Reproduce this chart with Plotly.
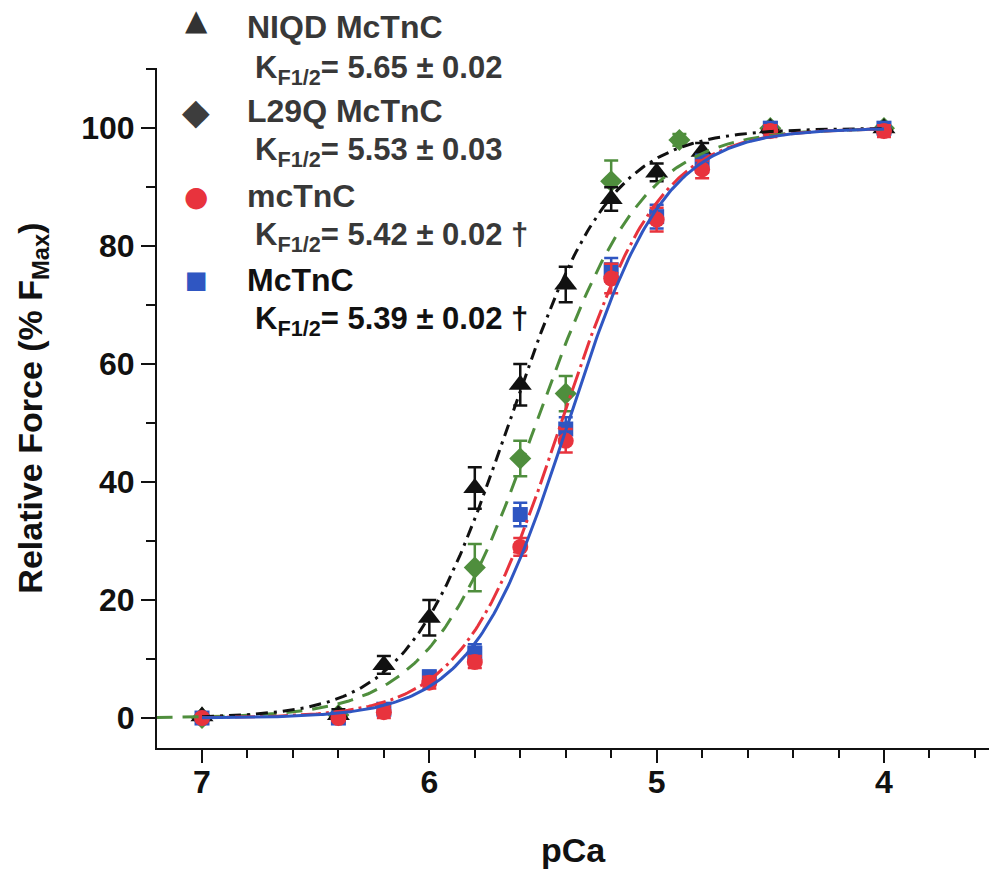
import numpy as np
import plotly.graph_objects as go

# pCa values at which force was measured
pca = [7.0, 6.4, 6.2, 6.0, 5.8, 5.6, 5.4, 5.2, 5.0, 4.8, 4.5, 4.0]
pca_l29q = [7.0, 6.4, 5.8, 5.6, 5.4, 5.2, 4.9, 4.5, 4.0]

# Relative force (% Fmax), mean and error
force_niqd = [0.3, 0.5, 9.0, 17.0, 39.0, 56.5, 73.5, 88.0, 92.5, 96.0, 100.0, 100.0]
err_niqd = [0.5, 1.0, 1.5, 3.0, 3.5, 3.5, 3.0, 2.0, 1.5, 1.5, 1.0, 1.0]

force_l29q = [0.0, 0.5, 25.5, 44.0, 55.0, 91.0, 98.0, 100.0, 100.0]
err_l29q = [0.5, 0.5, 4.0, 3.0, 3.0, 3.5, 1.0, 1.0, 1.0]

force_mc = [0.0, 0.0, 1.0, 6.0, 9.5, 29.0, 47.0, 74.5, 84.5, 93.0, 99.5, 99.5]
err_mc = [0.5, 0.5, 1.0, 1.0, 1.0, 1.5, 2.0, 2.5, 2.0, 1.5, 1.0, 1.0]

force_Mc = [0.0, 0.0, 1.5, 7.0, 11.0, 34.5, 49.0, 76.0, 85.0, 94.0, 100.0, 100.0]
err_Mc = [0.5, 0.5, 1.0, 1.0, 1.5, 2.0, 2.0, 2.0, 2.0, 1.5, 1.0, 1.0]

# Hill fit parameters: K_F1/2 (pCa50) and Hill coefficient
names = ["NIQD McTnC", "L29Q McTnC", "mcTnC", "McTnC"]
k_half = [5.65, 5.53, 5.42, 5.39]
k_err = [0.02, 0.03, 0.02, 0.02]
hill_n = [1.95, 1.85, 2.0, 2.05]
fit_start = [7.0, 7.2, 7.0, 7.0]
dagger = [False, False, True, True]

colors = ["#111111", "#4f8e3d", "#e8333d", "#2f56c2"]
marker_sym = ["triangle-up", "diamond", "circle", "square"]
marker_size = [20, 17, 16, 15]
line_dash = ["12px,6px,3px,6px", "16px,10px", "20px,5px,3px,5px", "solid"]

FONT = "Liberation Sans, Arial, sans-serif"

fig = go.Figure()

series = [
    (pca, force_niqd, err_niqd),
    (pca_l29q, force_l29q, err_l29q),
    (pca, force_mc, err_mc),
    (pca, force_Mc, err_Mc),
]

# data points with error bars (drawn green, black, blue, red from bottom to top)
for i in [1, 0, 3, 2]:
    x, y, e = series[i]
    fig.add_trace(go.Scatter(
        x=x, y=y, mode="markers", name=names[i], showlegend=False,
        marker=dict(symbol=marker_sym[i], size=marker_size[i], color=colors[i],
                    line=dict(width=0)),
        error_y=dict(type="data", array=e, visible=True, color=colors[i],
                     thickness=2.5, width=7),
        cliponaxis=False,
    ))

# Hill fit curves
for i in [1, 0, 2, 3]:
    xs = np.linspace(fit_start[i], 4.0, 300)
    ys = 100.0 / (1.0 + 10 ** (hill_n[i] * (xs - k_half[i])))
    fig.add_trace(go.Scatter(
        x=xs, y=ys, mode="lines", showlegend=False, hoverinfo="skip",
        line=dict(color=colors[i], width=3, dash=line_dash[i]),
    ))

# plot-area geometry in pixels, used to place the key
L, R, T, B = 157, 989, 68, 748


def px(xp, yp):
    return (xp - L) / (R - L), (B - yp) / (B - T)


key_glyph = ["▲", "◆", "●", "■"]
key_color = ["#333333", "#3d3d3d", "#e8333d", "#2f56c2"]
key_glyph_size = [29, 36, 28, 24]
key_rows = [(20, 27, 70), (111, 111, 152), (196, 196, 237), (280, 280, 321)]
text_color = ["#383838", "#383838", "#383838", "#111111"]

for i in range(4):
    gy, ty, ky = key_rows[i]
    gx, gyp = px(196, gy)
    fig.add_annotation(x=gx, y=gyp, xref="paper", yref="paper", text=key_glyph[i],
                       showarrow=False, xanchor="center", yanchor="middle",
                       font=dict(family="DejaVu Sans", size=key_glyph_size[i],
                                 color=key_color[i]))
    tx, typ = px(245, ty)
    fig.add_annotation(x=tx, y=typ, xref="paper", yref="paper",
                       text="<b>%s</b>" % names[i], showarrow=False,
                       xanchor="left", yanchor="middle",
                       font=dict(family=FONT, size=32, color=text_color[i]))
    kx, kyp = px(253, ky)
    ktxt = "<b>K<sub>F1/2</sub>= %.2f ± %.2f%s</b>" % (
        k_half[i], k_err[i], " †" if dagger[i] else "")
    fig.add_annotation(x=kx, y=kyp, xref="paper", yref="paper",
                       text=ktxt, showarrow=False,
                       xanchor="left", yanchor="middle",
                       font=dict(family=FONT, size=31, color=text_color[i]))

fig.update_layout(
    width=989, height=869,
    margin=dict(l=L, r=989 - R, t=T, b=869 - B),
    paper_bgcolor="white", plot_bgcolor="white",
    font=dict(family=FONT, color="#111111"),
    showlegend=False,
)

fig.update_xaxes(
    range=[7.198, 3.538],
    showgrid=False, zeroline=False,
    showline=True, linecolor="#111111", linewidth=2,
    tickmode="array", tickvals=[7, 6, 5, 4], ticktext=["7", "6", "5", "4"],
    ticks="outside", ticklen=13, tickwidth=2, tickcolor="#111111",
    ticklabelstandoff=-8,
    tickfont=dict(family=FONT, size=32, color="#111111", weight="bold"),
    minor=dict(tick0=0, dtick=0.2, ticks="outside", ticklen=8, tickwidth=2,
               tickcolor="#111111", showgrid=False),
    title=dict(text="<b>pCa</b>", font=dict(family=FONT, size=34, color="#111111"),
               standoff=40),
)

fig.update_yaxes(
    range=[-5.08, 110.2],
    showgrid=False, zeroline=False,
    showline=True, linecolor="#111111", linewidth=2,
    tickmode="array", tickvals=[0, 20, 40, 60, 80, 100],
    ticks="outside", ticklen=14, tickwidth=2, tickcolor="#111111",
    tickfont=dict(family=FONT, size=32, color="#111111", weight="bold"),
    minor=dict(tick0=0, dtick=10, ticks="outside", ticklen=9, tickwidth=2,
               tickcolor="#111111", showgrid=False),
    title=dict(text="<b>Relative Force (% F<sub>Max</sub>)</b>",
               font=dict(family=FONT, size=34, color="#111111"), standoff=28),
)

fig.write_html("out.html")
